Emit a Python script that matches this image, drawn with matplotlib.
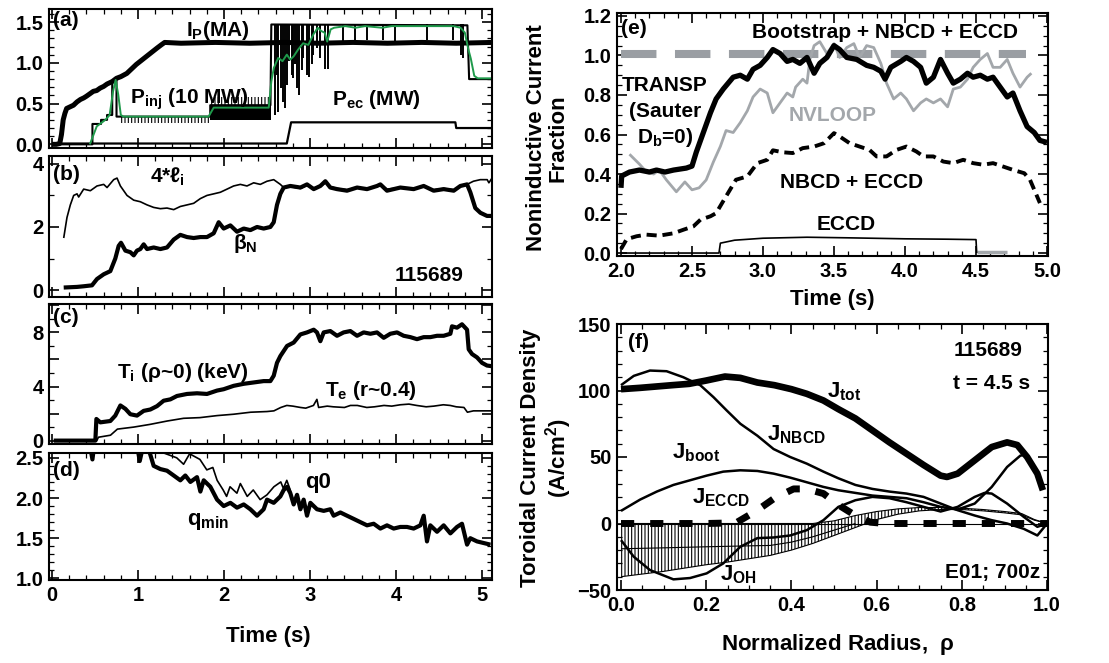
import matplotlib
matplotlib.use("Agg")
import matplotlib.pyplot as plt
from matplotlib import font_manager
from matplotlib.ticker import MultipleLocator, FuncFormatter, NullFormatter

# ---------------------------------------------------------------- data
# (a) plasma current, injected NBI power (black raw / green smoothed), ECH power
t_ip = [0.0, 0.05, 0.09, 0.11, 0.13, 0.15, 0.17, 0.21, 0.25, 0.29, 0.33, 0.37, 0.40, 0.44,
        0.48, 0.52, 0.56, 0.60, 0.64, 0.70, 0.75, 0.80, 0.87, 0.92, 0.98, 1.04, 1.10, 1.16,
        1.22, 1.27, 1.31, 1.50, 1.90, 2.30, 2.70, 3.10, 3.50, 3.90, 4.30, 4.70, 5.12]
ip = [0.0, 0.0, 0.01, 0.12, 0.30, 0.38, 0.44, 0.46, 0.48, 0.52, 0.55, 0.57, 0.59, 0.62,
      0.65, 0.66, 0.69, 0.71, 0.74, 0.77, 0.81, 0.83, 0.87, 0.92, 0.98, 1.03, 1.08, 1.13,
      1.18, 1.22, 1.25, 1.24, 1.25, 1.24, 1.25, 1.24, 1.25, 1.24, 1.25, 1.24, 1.25]

t_pinj = [0.0, 0.47, 0.47, 0.57, 0.57, 0.64, 0.64, 0.70, 0.70, 0.75, 0.75, 1.84, 1.84,
          2.54, 2.55, 4.83, 4.85, 5.12]
pinj = [0.0, 0.0, 0.25, 0.25, 0.30, 0.30, 0.36, 0.36, 0.78, 0.78, 0.34, 0.34, 0.48,
        0.48, 1.47, 1.46, 0.80, 0.80]
# beam modulation: notch intervals and levels
comb1_t = [0.78, 1.84]
comb1_lo = 0.26
comb1_hi = 0.34
box_t = [1.84, 2.55]
box_lo = 0.30
box_mid = 0.48
box_hi = 0.58
spike_t = [2.593, 2.612, 2.632, 2.659, 2.682, 2.709, 2.729, 2.760, 2.787, 2.806, 2.826,
           2.845, 2.876, 2.903, 2.922, 2.961, 2.992, 3.019, 3.039, 3.078, 3.116, 3.174,
           3.213, 3.388, 3.523, 3.659, 3.853, 3.988, 4.357, 4.667, 4.756, 4.783]
spike_lo = [0.36, 0.85, 0.40, 0.69, 0.52, 0.44, 0.73, 1.02, 0.85, 0.81, 0.98,
            0.69, 0.61, 0.91, 1.06, 0.85, 0.83, 0.98, 1.10, 1.18, 1.06, 0.93,
            0.93, 1.26, 1.28, 1.28, 1.28, 1.22, 1.28, 1.28, 1.10, 1.06]
spike_hi = 1.47

t_pinj_avg = [0.44, 0.52, 0.62, 0.67, 0.71, 0.74, 0.77, 0.80, 0.83, 1.82, 1.88, 2.52,
              2.55, 2.58, 2.63, 2.68, 2.73, 2.77, 2.81, 2.86, 2.92, 2.98, 3.04, 3.09,
              3.13, 3.17, 3.20, 3.24, 3.28, 3.41, 3.53, 3.64, 3.84, 3.95, 4.36, 4.67,
              4.75, 4.80, 4.84, 4.87, 4.91, 4.95, 5.12]
pinj_avg = [0.0, 0.22, 0.30, 0.36, 0.65, 0.79, 0.61, 0.36, 0.34, 0.34, 0.45, 0.45,
            0.77, 0.94, 1.06, 1.02, 1.10, 1.04, 1.08, 1.16, 1.24, 1.22, 1.35, 1.43,
            1.39, 1.37, 1.26, 1.41, 1.43, 1.45, 1.43, 1.45, 1.43, 1.45, 1.45, 1.45,
            1.43, 1.37, 1.17, 1.05, 0.84, 0.81, 0.81]

t_pec = [0.0, 2.73, 2.78, 4.69, 4.70, 5.12]
pec = [0.01, 0.01, 0.27, 0.27, 0.20, 0.20]

# (b) internal inductance and normalized beta
t_li = [0.136, 0.174, 0.213, 0.252, 0.291, 0.310, 0.368, 0.446, 0.523, 0.601, 0.640,
        0.717, 0.756, 0.795, 0.872, 0.950, 1.027, 1.105, 1.182, 1.260, 1.337, 1.415,
        1.492, 1.570, 1.647, 1.725, 1.802, 1.880, 1.957, 2.035, 2.112, 2.190, 2.267,
        2.345, 2.422, 2.500, 2.578, 2.655, 2.694, 2.771, 2.888, 2.965, 3.043, 3.120,
        3.178, 3.236, 3.314, 3.430, 3.547, 3.663, 3.779, 3.818, 3.895, 4.050, 4.205,
        4.322, 4.438, 4.554, 4.671, 4.748, 4.826, 4.900, 4.980, 5.060, 5.080, 5.116]
li4 = [1.65, 2.30, 2.70, 3.00, 3.05, 2.95, 3.20, 3.15, 3.30, 3.35, 3.25,
       3.50, 3.55, 3.30, 3.00, 2.85, 2.80, 2.70, 2.62, 2.58, 2.60, 2.55,
       2.65, 2.70, 2.75, 2.90, 3.00, 3.05, 3.10, 3.20, 3.30, 3.35, 3.30,
       3.40, 3.35, 3.45, 3.50, 3.35, 3.25, 3.28, 3.22, 3.32, 3.24, 3.28,
       3.40, 3.28, 3.22, 3.18, 3.25, 3.22, 3.28, 3.32, 3.20, 3.24, 3.22,
       3.28, 3.18, 3.22, 3.18, 3.28, 3.35, 3.45, 3.50, 3.50, 3.40, 3.55]

t_bn = [0.136, 0.291, 0.368, 0.465, 0.523, 0.601, 0.678, 0.736, 0.775, 0.802, 0.853,
        0.911, 0.950, 0.988, 1.027, 1.066, 1.105, 1.182, 1.260, 1.337, 1.415, 1.492,
        1.570, 1.647, 1.725, 1.802, 1.880, 1.938, 1.996, 2.074, 2.151, 2.229, 2.306,
        2.384, 2.461, 2.539, 2.578, 2.616, 2.655, 2.694, 2.771, 2.888, 2.965, 3.043,
        3.120, 3.178, 3.236, 3.314, 3.430, 3.547, 3.663, 3.779, 3.818, 3.895, 4.050,
        4.205, 4.322, 4.438, 4.554, 4.671, 4.748, 4.826, 4.864, 4.922, 4.981, 5.058,
        5.116]
beta_n = [0.08, 0.10, 0.12, 0.15, 0.35, 0.50, 0.60, 1.00, 1.40, 1.50, 1.25,
          1.20, 1.10, 1.25, 1.30, 1.45, 1.30, 1.35, 1.30, 1.35, 1.60, 1.75,
          1.68, 1.65, 1.68, 1.68, 1.80, 2.15, 1.95, 2.05, 1.85, 1.95, 1.90,
          2.00, 1.95, 2.00, 2.15, 2.70, 3.05, 3.25, 3.30, 3.25, 3.35, 3.20,
          3.30, 3.45, 3.25, 3.20, 3.15, 3.25, 3.20, 3.30, 3.35, 3.15, 3.25,
          3.20, 3.30, 3.15, 3.20, 3.15, 3.30, 3.35, 3.10, 2.60, 2.45, 2.35,
          2.35]

# (c) central ion temperature and electron temperature at r~0.4
t_ti = [0.02, 0.504, 0.516, 0.562, 0.678, 0.736, 0.795, 0.853, 0.911, 0.988, 1.066,
        1.143, 1.221, 1.298, 1.376, 1.453, 1.570, 1.686, 1.802, 1.919, 1.996, 2.112,
        2.229, 2.345, 2.461, 2.539, 2.578, 2.616, 2.655, 2.733, 2.810, 2.888, 2.965,
        3.043, 3.081, 3.120, 3.159, 3.236, 3.314, 3.391, 3.469, 3.547, 3.624, 3.702,
        3.779, 3.857, 3.934, 4.012, 4.089, 4.167, 4.244, 4.322, 4.399, 4.477, 4.554,
        4.632, 4.651, 4.709, 4.767, 4.826, 4.845, 4.884, 4.942, 5.000, 5.058, 5.116]
ti = [0.0, 0.0, 1.60, 1.35, 1.45, 1.85, 2.60, 2.35, 1.95, 1.85, 2.20,
      2.30, 2.55, 2.95, 3.05, 3.30, 3.45, 3.50, 3.45, 3.70, 3.80, 4.05,
      4.20, 4.30, 4.40, 4.40, 4.80, 5.75, 6.25, 7.00, 7.25, 7.85, 8.00,
      8.20, 8.00, 7.35, 8.00, 8.10, 7.75, 8.00, 8.10, 7.75, 8.00, 7.90,
      8.00, 7.60, 7.90, 8.00, 7.75, 7.65, 7.50, 7.65, 7.65, 7.75, 7.75,
      7.90, 8.45, 8.35, 8.60, 8.20, 6.75, 6.40, 6.15, 5.75, 5.55, 5.50]

t_te = [0.02, 0.52, 0.54, 0.68, 0.76, 0.95, 1.14, 1.34, 1.53, 1.72, 1.92, 2.11, 2.31,
        2.50, 2.58, 2.66, 2.73, 2.80, 2.89, 2.95, 3.04, 3.08, 3.10, 3.20, 3.27, 3.40,
        3.47, 3.55, 3.66, 3.75, 3.86, 3.95, 4.05, 4.15, 4.24, 4.35, 4.44, 4.55, 4.63,
        4.70, 4.79, 4.83, 4.90, 5.12]
te = [0.0, 0.0, 0.25, 0.40, 0.85, 1.00, 1.20, 1.45, 1.65, 1.70, 1.85, 1.95, 2.10,
      2.15, 2.20, 2.45, 2.60, 2.55, 2.45, 2.40, 2.60, 3.05, 2.45, 2.55, 2.50, 2.45,
      2.60, 2.60, 2.45, 2.50, 2.60, 2.55, 2.65, 2.70, 2.60, 2.50, 2.55, 2.65, 2.60,
      2.50, 2.45, 2.10, 2.20, 2.20]

# (d) minimum and central safety factor
t_qmin = [0.40, 0.47, 0.52, 0.70, 0.95, 1.02, 1.07, 1.14, 1.182, 1.260, 1.337, 1.415,
          1.492, 1.550, 1.609, 1.686, 1.725, 1.764, 1.841, 1.919, 1.996, 2.074, 2.151,
          2.229, 2.306, 2.384, 2.461, 2.500, 2.578, 2.655, 2.694, 2.733, 2.771, 2.810,
          2.849, 2.888, 2.926, 2.965, 3.004, 3.081, 3.159, 3.236, 3.275, 3.353, 3.430,
          3.508, 3.585, 3.663, 3.740, 3.818, 3.895, 3.973, 4.050, 4.128, 4.205, 4.283,
          4.322, 4.360, 4.399, 4.477, 4.554, 4.632, 4.709, 4.767, 4.826, 4.864, 4.942,
          5.019, 5.097]
qmin = [2.90, 2.48, 2.90, 3.00, 2.90, 2.46, 2.70, 2.55, 2.40, 2.36, 2.34, 2.28,
        2.22, 2.28, 2.20, 2.26, 2.08, 2.22, 2.14, 1.98, 1.90, 1.94, 1.88,
        1.92, 1.86, 1.78, 1.86, 1.98, 1.94, 2.02, 2.10, 2.14, 2.06, 1.92,
        2.04, 1.86, 1.98, 1.78, 1.94, 1.86, 1.84, 1.86, 1.78, 1.82, 1.78,
        1.74, 1.70, 1.66, 1.68, 1.62, 1.66, 1.62, 1.64, 1.64, 1.62, 1.66,
        1.78, 1.46, 1.66, 1.58, 1.66, 1.56, 1.64, 1.68, 1.42, 1.50, 1.46,
        1.44, 1.42]

t_q0_early = [1.20, 1.45, 1.53, 1.60, 1.72, 1.80, 1.87, 1.92, 1.99, 2.03, 2.07, 2.15,
              2.19, 2.27, 2.34, 2.42, 2.50, 2.58, 2.66, 2.69, 2.73, 2.77]
q0_early = [2.60, 2.50, 2.42, 2.55, 2.48, 2.35, 2.38, 2.22, 2.10, 2.02, 2.14, 2.06,
            2.18, 2.02, 2.10, 1.98, 2.04, 2.14, 2.20, 2.12, 2.22, 2.10]
q0_join_index = 33   # from t = 2.81 s q0 coincides with qmin

# (e) noninductive current fraction
t_transp = [2.00, 2.005, 2.06, 2.13, 2.20, 2.25, 2.31, 2.37, 2.46, 2.50, 2.53, 2.58,
            2.63, 2.67, 2.72, 2.79, 2.84, 2.89, 2.93, 2.98, 3.03, 3.07, 3.12, 3.17,
            3.21, 3.26, 3.31, 3.36, 3.40, 3.45, 3.50, 3.54, 3.59, 3.66, 3.73, 3.78,
            3.83, 3.86, 3.90, 3.97, 4.01, 4.06, 4.11, 4.15, 4.20, 4.25, 4.30, 4.34,
            4.39, 4.44, 4.48, 4.53, 4.58, 4.62, 4.67, 4.72, 4.76, 4.81, 4.86, 4.91,
            4.95, 5.00]
transp = [0.33, 0.39, 0.41, 0.42, 0.41, 0.42, 0.41, 0.42, 0.43, 0.44, 0.51, 0.61,
          0.71, 0.78, 0.83, 0.89, 0.90, 0.88, 0.93, 0.95, 0.99, 1.03, 1.01, 0.97,
          0.98, 0.96, 0.99, 0.91, 0.96, 0.99, 1.05, 1.03, 0.99, 0.98, 0.95, 0.94,
          0.92, 0.88, 0.94, 0.97, 0.99, 0.97, 0.94, 0.86, 0.89, 0.98, 0.91, 0.86,
          0.88, 0.91, 0.89, 0.90, 0.88, 0.89, 0.84, 0.79, 0.81, 0.72, 0.64, 0.61,
          0.57, 0.56]

t_nvloop = [2.06, 2.13, 2.18, 2.23, 2.27, 2.32, 2.39, 2.45, 2.50, 2.55, 2.60, 2.65,
            2.70, 2.74, 2.79, 2.84, 2.89, 2.93, 2.98, 3.03, 3.07, 3.12, 3.17, 3.21,
            3.23, 3.28, 3.31, 3.33, 3.36, 3.40, 3.45, 3.50, 3.54, 3.59, 3.64, 3.68,
            3.73, 3.78, 3.83, 3.87, 3.92, 3.97, 4.01, 4.06, 4.11, 4.15, 4.20, 4.25,
            4.30, 4.34, 4.39, 4.44, 4.48, 4.53, 4.58, 4.62, 4.67, 4.72, 4.76, 4.81,
            4.86, 4.89]
nvloop = [0.50, 0.45, 0.41, 0.40, 0.42, 0.37, 0.31, 0.36, 0.32, 0.33, 0.37, 0.46,
          0.54, 0.62, 0.61, 0.66, 0.72, 0.79, 0.83, 0.81, 0.71, 0.76, 0.81, 0.79,
          0.84, 0.88, 0.86, 0.98, 1.05, 1.07, 1.01, 1.06, 0.99, 1.04, 1.06, 0.99,
          1.05, 1.04, 0.96, 0.86, 0.78, 0.81, 0.78, 0.72, 0.76, 0.78, 0.76, 0.78,
          0.74, 0.83, 0.84, 0.88, 0.94, 0.98, 1.01, 0.94, 0.94, 0.98, 0.91, 0.84,
          0.89, 0.91]

t_nbeccd = [2.00, 2.04, 2.11, 2.18, 2.27, 2.37, 2.44, 2.51, 2.56, 2.63, 2.67, 2.74,
            2.81, 2.89, 2.96, 3.03, 3.07, 3.14, 3.21, 3.28, 3.36, 3.43, 3.50, 3.54,
            3.61, 3.68, 3.75, 3.80, 3.87, 3.94, 4.01, 4.08, 4.13, 4.20, 4.27, 4.34,
            4.41, 4.48, 4.55, 4.62, 4.69, 4.76, 4.84, 4.88, 4.93, 4.95]
nbeccd = [0.02, 0.07, 0.085, 0.093, 0.088, 0.10, 0.118, 0.135, 0.169, 0.186, 0.202,
          0.287, 0.371, 0.388, 0.455, 0.472, 0.52, 0.51, 0.506, 0.531, 0.539, 0.556,
          0.607, 0.59, 0.556, 0.539, 0.522, 0.489, 0.489, 0.522, 0.539, 0.514, 0.489,
          0.489, 0.463, 0.455, 0.472, 0.455, 0.447, 0.455, 0.438, 0.421, 0.404, 0.371,
          0.287, 0.253]

t_eccd = [2.00, 2.69, 2.70, 2.80, 3.00, 3.31, 3.60, 4.00, 4.30, 4.50, 4.505]
eccd = [0.0, 0.0, 0.05, 0.065, 0.075, 0.08, 0.077, 0.072, 0.070, 0.068, 0.0]
t_eccd_tail = [4.505, 4.72]
eccd_tail = [0.004, 0.004]

full_level = 1.01          # bootstrap + NBCD + ECCD reference level
full_level_span = [2.0, 4.85]

# (f) current density profiles at t = 4.5 s
rho_tot = [0.0, 0.045, 0.12, 0.16, 0.20, 0.244, 0.28, 0.32, 0.36, 0.40, 0.436, 0.475,
           0.51, 0.55, 0.59, 0.63, 0.67, 0.71, 0.75, 0.765, 0.79, 0.83, 0.87, 0.906,
           0.93, 0.953, 0.977, 0.99]
j_tot = [101, 102, 104, 105, 107.5, 110.5, 109.5, 106, 104, 101, 97.5, 92.5,
         86, 79, 70, 61, 52.5, 44, 36, 35, 37.5, 47.5, 57.5, 61,
         59, 50, 37.5, 25]

rho_nbcd = [0.0, 0.03, 0.068, 0.107, 0.146, 0.186, 0.217, 0.248, 0.28, 0.32, 0.358,
            0.397, 0.436, 0.475, 0.51, 0.55, 0.59, 0.63, 0.67, 0.71, 0.75, 0.79,
            0.83, 0.87, 0.906, 0.945, 0.977, 1.0]
j_nbcd = [104, 111, 115, 114.5, 110, 104, 95, 85, 75, 66, 56,
          50, 45, 39, 34, 29, 26, 24, 22.5, 20, 15, 10,
          6, 2.5, 0, -4, -9, 0]

rho_boot = [0.0, 0.045, 0.084, 0.123, 0.162, 0.201, 0.24, 0.28, 0.32, 0.358, 0.397,
            0.436, 0.475, 0.51, 0.55, 0.59, 0.63, 0.67, 0.71, 0.75, 0.79, 0.83,
            0.87, 0.906, 0.937, 0.953]
j_boot = [9.5, 18, 24, 29, 32.5, 36, 39, 40, 39.5, 37.5, 34.5,
          31, 27.5, 25, 23, 21, 20, 19, 16, 12.5, 10.5, 15,
          27.5, 42.5, 51, 52]

rho_oh = [0.0, 0.03, 0.068, 0.123, 0.162, 0.201, 0.24, 0.28, 0.32, 0.358, 0.397,
          0.436, 0.475, 0.51, 0.55, 0.59, 0.63, 0.67, 0.71, 0.75, 0.79, 0.83,
          0.853, 0.87, 0.906, 0.945, 0.977, 1.0]
j_oh = [-12.5, -25, -35, -42, -41, -37.5, -30, -17.5, -11, -10.5, -9,
        -5, 2.5, 12.5, 17.5, 20, 19, 16, 12.5, 9, 12.5, 20,
        23, 22.5, 15, 5, -2.5, 0]

rho_eccd = [0.0, 0.10, 0.20, 0.27, 0.32, 0.36, 0.405, 0.436, 0.475, 0.51, 0.55, 0.585,
            0.62, 1.0]
j_eccd = [0, 0, 0, 0.5, 10, 19, 26, 26, 22.5, 14, 6, 1, 0, 0]

rho_band = [0.0, 0.05, 0.10, 0.15, 0.20, 0.25, 0.30, 0.35, 0.40, 0.45, 0.50, 0.55,
            0.60, 0.65, 0.70, 0.75, 0.80, 0.85, 0.90, 0.94, 0.97, 1.0]
band_top = [0, 0, 0, 0, 0, 0, 0, 0, 0, 0, 2, 6,
            9, 11, 12, 12, 11.5, 10.5, 9, 7.5, 3, 0]
band_bot = [-40, -38, -36, -33.5, -31, -29, -26.5, -24, -20, -15, -9, -3,
            3, 7, 9.5, 10.5, 10.5, 9.5, 8, 6.5, 2.5, 0]
rho_band_mid = [0.0, 0.10, 0.20, 0.30, 0.35, 0.40, 0.45, 0.50, 0.55]
band_mid = [-19, -18.3, -17.5, -16.8, -16.5, -14, -10, -5, 0]

# ---------------------------------------------------------------- style
def pick_font(names):
    for n in names:
        try:
            font_manager.findfont(font_manager.FontProperties(family=n, weight="bold"),
                                  fallback_to_default=False)
            return n
        except Exception:
            continue
    return "DejaVu Sans"


FONT = pick_font(["Liberation Sans Narrow", "Liberation Sans", "Arial"])
plt.rcParams.update({
    "font.family": [FONT, "DejaVu Sans"],
    "font.weight": "bold",
    "mathtext.fontset": "custom",
    "mathtext.rm": f"{FONT}:bold",
    "mathtext.it": f"{FONT}:bold",
    "mathtext.bf": f"{FONT}:bold",
    "mathtext.sf": f"{FONT}:bold",
    "axes.linewidth": 1.5,
    "hatch.linewidth": 0.8,
    "lines.solid_capstyle": "butt",
})

GREEN = "#1f9a4b"
GREY = "#a3a7ab"
GREY_DASH = "#9a9ea3"
TICK_FS = 14.5
TXT_FS = 15

W, H = 1109, 663
fig = plt.figure(figsize=(W / 100, H / 100), dpi=100)


def rect(l, t, r, b):
    return [l / W, 1 - b / H, (r - l) / W, (b - t) / H]


def style(ax, xmaj, xmin, ymaj, ymin, xlabels=True):
    ax.xaxis.set_major_locator(MultipleLocator(xmaj))
    ax.xaxis.set_minor_locator(MultipleLocator(xmin))
    ax.yaxis.set_major_locator(MultipleLocator(ymaj))
    ax.yaxis.set_minor_locator(MultipleLocator(ymin))
    ax.tick_params(which="both", direction="in", top=True, right=True,
                   labelsize=TICK_FS, pad=4)
    ax.tick_params(which="major", length=7, width=1.2)
    ax.tick_params(which="minor", length=3.5, width=0.9)
    if not xlabels:
        ax.xaxis.set_major_formatter(NullFormatter())


def sub(base, s):
    """Bold text with a mathtext subscript."""
    return base + r"$_{\mathrm{" + s + "}}$"


XL = (-0.035, 5.116)

# ---------------------------------------------------------------- (a)
ax = fig.add_axes(rect(49, 9, 492, 148))
ax.set_xlim(*XL)
ax.set_ylim(-0.045, 1.66)
ax.fill_between(comb1_t, [comb1_lo] * 2, [comb1_hi] * 2, facecolor="none",
                edgecolor="black", hatch="|||||", linewidth=0)
ax.fill_between(box_t, [box_lo] * 2, [box_mid] * 2, facecolor="black", linewidth=0)
ax.fill_between(box_t, [box_mid] * 2, [box_hi] * 2, facecolor="none",
                edgecolor="black", hatch="|||||", linewidth=0)
ax.vlines(spike_t, spike_lo, spike_hi, color="black", lw=1.4)
ax.plot(t_pinj, pinj, color="black", lw=1.5)
ax.plot(t_pec, pec, color="black", lw=1.6)
ax.plot(t_ip, ip, color="black", lw=3.6)
ax.plot(t_pinj_avg, pinj_avg, color=GREEN, lw=1.4)
style(ax, 1, 0.2, 0.5, 0.1, xlabels=False)
ax.yaxis.set_major_formatter(FuncFormatter(lambda v, p: f"{v:.1f}"))
ax.text(0.008, 0.915, "(a)", transform=ax.transAxes, fontsize=TXT_FS,
        va="center", ha="left")
ax.text(1.56, 1.33, sub("I", "P") + "(MA)", fontsize=TXT_FS, va="baseline")
ax.text(0.91, 0.50, sub("P", "inj") + " (10 MW)", fontsize=TXT_FS, va="baseline")
ax.text(3.26, 0.48, sub("P", "ec") + " (MW)", fontsize=TXT_FS, va="baseline")

# ---------------------------------------------------------------- (b)
ax = fig.add_axes(rect(49, 156, 492, 297))
ax.set_xlim(*XL)
ax.set_ylim(-0.22, 4.25)
ax.plot(t_li, li4, color="black", lw=1.2)
ax.plot(t_bn, beta_n, color="black", lw=3.0)
style(ax, 1, 0.2, 2, 1, xlabels=False)
ax.text(0.008, 0.87, "(b)", transform=ax.transAxes, fontsize=TXT_FS,
        va="center", ha="left")
ax.text(1.14, 3.40, "4*" + r"$\ell_{\mathrm{i}}$", fontsize=TXT_FS, va="baseline")
ax.text(2.10, 1.30, r"$\beta_{\mathrm{N}}$", fontsize=TXT_FS, va="baseline")
ax.text(4.78, 0.30, "115689", fontsize=TXT_FS, va="baseline", ha="right")

# ---------------------------------------------------------------- (c)
ax = fig.add_axes(rect(49, 304, 492, 444))
ax.set_xlim(*XL)
ax.set_ylim(-0.25, 10.1)
ax.plot(t_te, te, color="black", lw=1.2)
ax.plot(t_ti, ti, color="black", lw=3.0)
style(ax, 1, 0.2, 2, 1, xlabels=False)
ax.yaxis.set_major_formatter(FuncFormatter(lambda v, p: f"{v:.0f}" if round(v) % 4 == 0 else ""))
ax.text(0.008, 0.905, "(c)", transform=ax.transAxes, fontsize=TXT_FS,
        va="center", ha="left")
ax.text(0.76, 4.66, sub("T", "i") + r" ($\rho$~0) (keV)", fontsize=TXT_FS,
        va="baseline")
ax.text(3.17, 3.30, sub("T", "e") + " (r~0.4)", fontsize=TXT_FS, va="baseline")

# ---------------------------------------------------------------- (d)
ax = fig.add_axes(rect(49, 453, 492, 580))
ax.set_xlim(*XL)
ax.set_ylim(0.98, 2.56)
ax.plot(t_q0_early + t_qmin[q0_join_index:], q0_early + qmin[q0_join_index:],
        color="black", lw=1.2)
ax.plot(t_qmin, qmin, color="black", lw=3.0)
style(ax, 1, 0.2, 0.5, 0.1)
ax.xaxis.set_major_formatter(FuncFormatter(lambda v, p: f"{v:.0f}"))
ax.yaxis.set_major_formatter(FuncFormatter(lambda v, p: f"{v:.1f}"))
ax.text(0.008, 0.86, "(d)", transform=ax.transAxes, fontsize=TXT_FS,
        va="center", ha="left")
ax.text(2.94, 2.13, "q0", fontsize=TXT_FS + 1, va="baseline")
ax.text(1.57, 1.66, sub("q", "min"), fontsize=TXT_FS + 1, va="baseline")
fig.text(268 / W, 1 - 642 / H, "Time (s)", fontsize=16, ha="center", va="baseline")

# ---------------------------------------------------------------- (e)
ax = fig.add_axes(rect(617, 13, 1048, 256))
ax.set_xlim(1.972, 5.007)
ax.set_ylim(-0.015, 1.215)
ax.plot(full_level_span, [full_level] * 2, color=GREY_DASH, lw=5.8,
        linestyle=(0, (4.4, 2.3)), dash_capstyle="butt")
ax.plot(t_eccd_tail, eccd_tail, color=GREY, lw=2.5)
ax.plot(t_eccd, eccd, color="black", lw=1.2)
ax.plot(t_nbeccd, nbeccd, color="black", lw=2.8, linestyle=(0, (2.6, 1.5)))
ax.plot(t_nvloop, nvloop, color=GREY, lw=2.0)
ax.plot(t_transp, transp, color="black", lw=3.8)
style(ax, 0.5, 0.1, 0.2, 0.05)
ax.xaxis.set_major_formatter(FuncFormatter(lambda v, p: f"{v:.1f}"))
ax.yaxis.set_major_formatter(FuncFormatter(lambda v, p: f"{v:.1f}"))
ax.text(0.01, 0.935, "(e)", transform=ax.transAxes, fontsize=TXT_FS,
        va="center", ha="left")
ax.text(2.92, 1.09, "Bootstrap + NBCD + ECCD", fontsize=TXT_FS, va="baseline")
ax.text(2.31, 0.82, "TRANSP", fontsize=TXT_FS, va="baseline", ha="center")
ax.text(2.31, 0.69, "(Sauter", fontsize=TXT_FS, va="baseline", ha="center")
ax.text(2.31, 0.556, sub("D", "b") + "=0)", fontsize=TXT_FS, va="baseline",
        ha="center")
ax.text(3.18, 0.666, "NVLOOP", fontsize=TXT_FS, va="baseline", color=GREY)
ax.text(3.12, 0.33, "NBCD + ECCD", fontsize=TXT_FS, va="baseline")
ax.text(3.38, 0.118, "ECCD", fontsize=TXT_FS, va="baseline")
fig.text(832 / W, 1 - 305 / H, "Time (s)", fontsize=16, ha="center", va="baseline")
fig.text(547 / W, 1 - 138 / H, "Noninductive Current\nFraction", fontsize=16,
         rotation=90, ha="center", va="center", multialignment="center",
         linespacing=1.05)

# ---------------------------------------------------------------- (f)
ax = fig.add_axes(rect(617, 324, 1048, 590))
ax.set_xlim(-0.0094, 1.002)
ax.set_ylim(-50, 150)
ax.axhline(0, color="black", lw=0.8)
ax.fill_between(rho_band, band_bot, band_top, facecolor="none", edgecolor="black",
                hatch="|||||", linewidth=0)
ax.plot(rho_band, band_bot, color="black", lw=0.8)
ax.plot(rho_band, band_top, color="black", lw=0.8)
ax.plot(rho_band_mid, band_mid, color="black", lw=0.8)
ax.plot(rho_eccd, j_eccd, color="black", lw=5.0, linestyle=(0, (1.9, 2.3)))
ax.plot(rho_oh, j_oh, color="black", lw=1.8)
ax.plot(rho_boot, j_boot, color="black", lw=1.8)
ax.plot(rho_nbcd, j_nbcd, color="black", lw=1.8)
ax.plot(rho_tot, j_tot, color="black", lw=4.8)
style(ax, 0.2, 0.05, 50, 10)
ax.xaxis.set_major_formatter(FuncFormatter(lambda v, p: f"{v:.1f}"))
ax.yaxis.set_major_formatter(FuncFormatter(lambda v, p: f"{v:.0f}".replace("-", "\u2212")))
ax.text(0.017, 136, "(f)", fontsize=TXT_FS, va="center", ha="left")
ax.text(0.941, 126, "115689", fontsize=TXT_FS, va="baseline", ha="right")
ax.text(0.961, 101, "t = 4.5 s", fontsize=TXT_FS, va="baseline", ha="right")
ax.text(0.483, 95, sub("J", "tot"), fontsize=TXT_FS + 1, va="baseline")
ax.text(0.342, 62.5, sub("J", "NBCD"), fontsize=TXT_FS + 1, va="baseline")
ax.text(0.119, 48.75, sub("J", "boot"), fontsize=TXT_FS + 1, va="baseline")
ax.text(0.166, 15, sub("J", "ECCD"), fontsize=TXT_FS + 1, va="baseline")
ax.text(0.233, -42.5, sub("J", "OH"), fontsize=TXT_FS + 1, va="baseline")
ax.text(0.984, -41, "E01; 700z", fontsize=TXT_FS, va="baseline", ha="right")
fig.text(838 / W, 1 - 650 / H, r"Normalized Radius,  $\rho$", fontsize=16,
         ha="center", va="baseline")
fig.text(547 / W, 1 - 458 / H, "Toroidal Current Density\n(A/cm" + r"$^{\mathrm{2}}$)",
         fontsize=16, rotation=90, ha="center", va="center", multialignment="center",
         linespacing=1.05)

fig.savefig("out.png", dpi=100)
